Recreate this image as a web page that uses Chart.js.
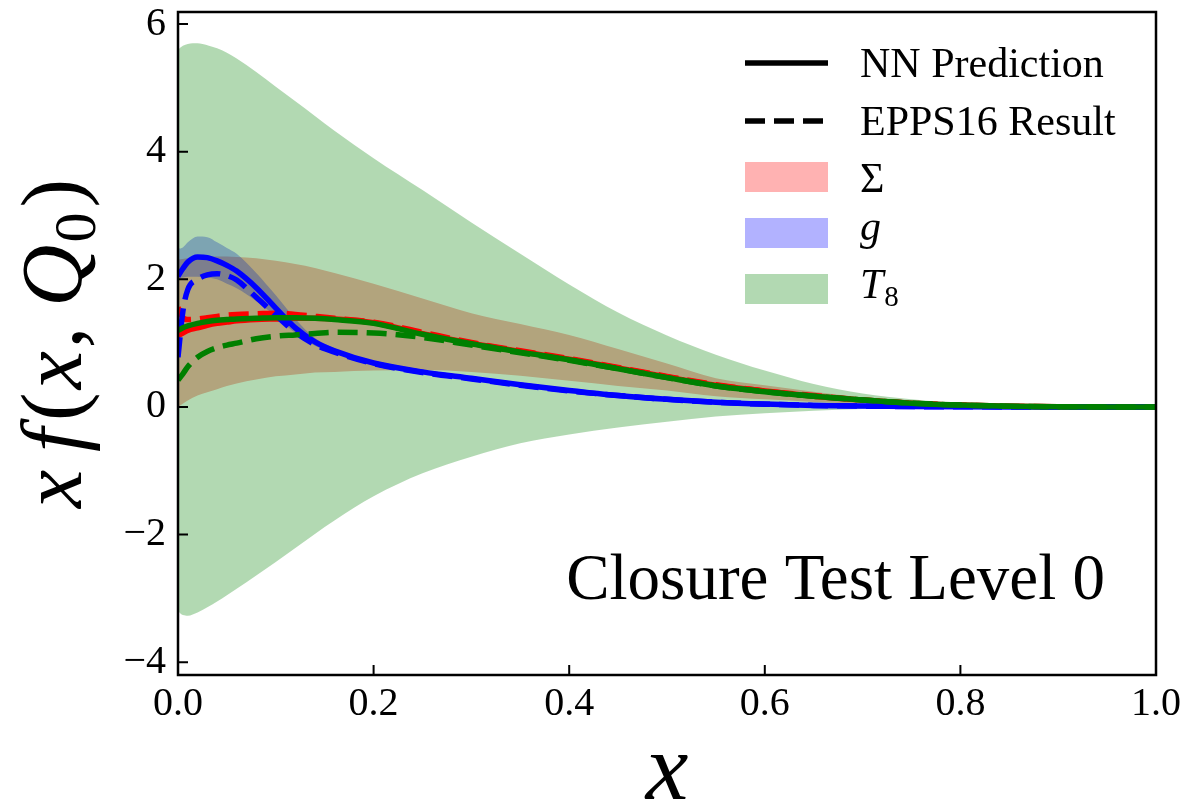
<!DOCTYPE html>
<html>
<head>
<meta charset="utf-8">
<script src="https://cdn.jsdelivr.net/npm/chart.js@4.4.0/dist/chart.umd.min.js"></script>
<style>
  html, body { margin: 0; padding: 0; background: #fff; }
  #wrap { width: 1184px; height: 802px; }
</style>
</head>
<body>
<div id="wrap"><canvas id="pdf" width="1184" height="802"></canvas></div>
<script>
// sample positions in x
const xGrid = [0, 0.005, 0.01, 0.02, 0.03, 0.04, 0.05, 0.06, 0.08, 0.10, 0.12, 0.14, 0.16, 0.20, 0.25,
               0.30, 0.35, 0.40, 0.45, 0.50, 0.55, 0.60, 0.65, 0.70, 0.75, 0.80, 0.85, 0.90, 0.95, 1.00];

// uncertainty bands (upper / lower)
const sigmaUp = [2.31, 2.32, 2.33, 2.35, 2.36, 2.36, 2.36, 2.35, 2.33, 2.29, 2.24, 2.18, 2.10, 1.93, 1.70,
                 1.47, 1.30, 1.13, 0.91, 0.68, 0.45, 0.34, 0.24, 0.15, 0.09, 0.05, 0.025, 0.01, 0.003, 0];
const sigmaLo = [0.00, 0.05, 0.10, 0.18, 0.23, 0.28, 0.33, 0.37, 0.43, 0.48, 0.51, 0.54, 0.55, 0.57, 0.58,
                 0.55, 0.49, 0.41, 0.33, 0.26, 0.17, 0.12, 0.08, 0.05, 0.03, 0.015, 0.007, 0.003, 0.001, 0];
const gUp     = [2.48, 2.50, 2.58, 2.67, 2.66, 2.58, 2.49, 2.40, 2.10, 1.75, 1.38, 1.08, 0.92, 0.71, 0.57,
                 0.46, 0.36, 0.27, 0.19, 0.13, 0.08, 0.05, 0.03, 0.016, 0.008, 0.004, 0.001, 0, 0, 0];
const gLo     = [2.02, 2.03, 2.04, 2.04, 2.03, 2.00, 1.93, 1.86, 1.66, 1.42, 1.16, 0.96, 0.84, 0.67, 0.53,
                 0.44, 0.34, 0.25, 0.17, 0.11, 0.07, 0.04, 0.02, 0.012, 0.006, 0.002, 0.001, 0, 0, 0];
const t8Up    = [5.60, 5.66, 5.69, 5.70, 5.67, 5.62, 5.55, 5.46, 5.25, 5.02, 4.79, 4.56, 4.33, 3.90, 3.40,
                 2.89, 2.40, 1.92, 1.48, 1.12, 0.82, 0.57, 0.36, 0.21, 0.12, 0.06, 0.03, 0.01, 0.003, 0];
const t8Lo    = [-3.20, -3.26, -3.27, -3.22, -3.14, -3.05, -2.95, -2.85, -2.64, -2.43, -2.21, -1.99, -1.78, -1.40, -1.04,
                 -0.78, -0.57, -0.43, -0.32, -0.23, -0.15, -0.10, -0.06, -0.03, -0.015, -0.008, -0.003, -0.001, 0, 0];

// central curves: NN prediction (solid) and EPPS16 (dashed)
const sigmaNN   = [1.12, 1.16, 1.20, 1.24, 1.28, 1.31, 1.33, 1.35, 1.37, 1.38, 1.39, 1.39, 1.38, 1.32, 1.15,
                   1.00, 0.87, 0.75, 0.61, 0.47, 0.34, 0.25, 0.17, 0.11, 0.06, 0.03, 0.012, 0.004, 0.001, 0];
const sigmaEPPS = [1.56, 1.40, 1.37, 1.38, 1.40, 1.42, 1.44, 1.45, 1.46, 1.47, 1.45, 1.42, 1.39, 1.33, 1.17,
                   1.01, 0.88, 0.76, 0.62, 0.48, 0.35, 0.25, 0.18, 0.11, 0.06, 0.03, 0.012, 0.004, 0.001, 0];
const gNN       = [2.05, 2.17, 2.27, 2.35, 2.34, 2.29, 2.22, 2.13, 1.87, 1.55, 1.24, 1.02, 0.88, 0.69, 0.55,
                   0.45, 0.35, 0.26, 0.18, 0.12, 0.075, 0.045, 0.025, 0.014, 0.007, 0.003, 0.001, 0, 0, 0];
const gEPPS     = [0.78, 1.50, 1.84, 2.00, 2.07, 2.09, 2.06, 1.99, 1.72, 1.44, 1.17, 0.98, 0.86, 0.68, 0.54,
                   0.44, 0.34, 0.25, 0.18, 0.12, 0.074, 0.044, 0.025, 0.014, 0.007, 0.003, 0.001, 0, 0, 0];
const t8NN      = [1.20, 1.24, 1.27, 1.31, 1.34, 1.36, 1.37, 1.38, 1.39, 1.40, 1.40, 1.39, 1.37, 1.31, 1.14,
                   0.99, 0.86, 0.74, 0.60, 0.46, 0.33, 0.24, 0.17, 0.11, 0.06, 0.03, 0.012, 0.004, 0.001, 0];
const t8EPPS    = [0.42, 0.52, 0.63, 0.78, 0.87, 0.93, 0.97, 1.00, 1.07, 1.11, 1.13, 1.15, 1.17, 1.16, 1.09,
                   0.97, 0.85, 0.73, 0.60, 0.46, 0.33, 0.24, 0.17, 0.11, 0.06, 0.03, 0.012, 0.004, 0.001, 0];

const xTicks = [0, 0.2, 0.4, 0.6, 0.8, 1.0];
const yTicks = [-4, -2, 0, 2, 4, 6];

const SERIF = '"Liberation Serif", "Times New Roman", serif';
const RED = '#ff0000', BLUE = '#0000ff', GREEN = '#008000';
const DASH = [20, 9];

const pts = ys => xGrid.map((x, i) => ({ x, y: ys[i] }));

function bandPair(up, lo, color, targetIdx, order) {
  return [
    { data: pts(up), borderWidth: 0, backgroundColor: color, fill: targetIdx, order },
    { data: pts(lo), borderWidth: 0, fill: false, order }
  ];
}
function curve(ys, color, dashed, order) {
  return { data: pts(ys), borderColor: color, borderWidth: 5.5, borderDash: dashed ? DASH : [],
           fill: false, order };
}

// inward ticks + box frame, like the matplotlib axes
const axesFrame = {
  id: 'axesFrame',
  afterDatasetsDraw(chart) {
    const { ctx, chartArea: a, scales: { x, y } } = chart;
    ctx.save();
    ctx.strokeStyle = '#000';
    ctx.lineWidth = 2;
    ctx.beginPath();
    xTicks.forEach(v => {
      const px = x.getPixelForValue(v);
      ctx.moveTo(px, a.bottom); ctx.lineTo(px, a.bottom - 10);
    });
    yTicks.forEach(v => {
      const py = y.getPixelForValue(v);
      ctx.moveTo(a.left, py); ctx.lineTo(a.left + 10, py);
    });
    ctx.stroke();
    ctx.lineWidth = 2.5;
    ctx.strokeRect(a.left, a.top, a.right - a.left, a.bottom - a.top);
    ctx.restore();
  }
};

// legend, annotation and axis labels (math labels need subscripts)
const labels = {
  id: 'labels',
  afterDraw(chart) {
    const { ctx, chartArea: a } = chart;
    ctx.save();
    ctx.fillStyle = '#000';
    ctx.textBaseline = 'alphabetic';

    // legend
    const lx0 = 745, lx1 = 828, tx = 860;
    ctx.strokeStyle = '#000';
    ctx.lineWidth = 5.5;
    ctx.beginPath(); ctx.moveTo(lx0, 63); ctx.lineTo(lx1, 63); ctx.stroke();
    ctx.setLineDash(DASH);
    ctx.beginPath(); ctx.moveTo(lx0, 121); ctx.lineTo(lx1, 121); ctx.stroke();
    ctx.setLineDash([]);
    const patches = [['rgba(255,0,0,0.3)', 162], ['rgba(0,0,255,0.3)', 218], ['rgba(0,128,0,0.3)', 274]];
    patches.forEach(([c, top]) => { ctx.fillStyle = c; ctx.fillRect(lx0, top, lx1 - lx0, 30); });
    ctx.fillStyle = '#000';
    ctx.font = '42px ' + SERIF;
    ctx.fillText('NN Prediction', tx, 77);
    ctx.fillText('EPPS16 Result', tx, 135);
    ctx.fillText('\u03A3', tx, 192);
    ctx.font = 'italic 42px ' + SERIF;
    ctx.fillText('g', tx, 240);
    ctx.fillText('T', tx, 298);
    const tw = ctx.measureText('T').width;
    ctx.font = '29px ' + SERIF;
    ctx.fillText('8', tx + tw + 1, 306);

    // annotation
    ctx.font = '65px ' + SERIF;
    ctx.textAlign = 'right';
    ctx.fillText('Closure Test Level 0', 1105, 599);

    // x axis label
    ctx.textAlign = 'center';
    ctx.font = 'italic 96px ' + SERIF;
    ctx.fillText('x', (a.left + a.right) / 2, 799);

    // y axis label: x f(x, Q0)
    const parts = [
      ['x', 'italic 86px', 0, 18], ['f', 'italic 86px', 0, 7], ['(', '86px', 0, 3],
      ['x', 'italic 86px', 0, 3], [',', '86px', 0, 20], ['Q', 'italic 86px', 0, 2],
      ['0', '60px', 14, 5], [')', '86px', 0, 0]
    ];
    let total = 0;
    parts.forEach(p => { ctx.font = p[1] + ' ' + SERIF; p.push(ctx.measureText(p[0]).width); total += p[4] + p[3]; });
    ctx.translate(81, (a.top + a.bottom) / 2);
    ctx.rotate(-Math.PI / 2);
    ctx.textAlign = 'left';
    let cx = -total / 2;
    parts.forEach(p => {
      ctx.font = p[1] + ' ' + SERIF;
      ctx.fillText(p[0], cx, p[2]);
      cx += p[4] + p[3];
    });
    ctx.restore();
  }
};

const tickFont = { family: SERIF, size: 40 };

new Chart(document.getElementById('pdf'), {
  type: 'line',
  data: {
    datasets: [
      ...bandPair(sigmaUp, sigmaLo, 'rgba(255,0,0,0.3)', 1, 100),
      ...bandPair(gUp, gLo, 'rgba(0,0,255,0.3)', 3, 90),
      ...bandPair(t8Up, t8Lo, 'rgba(0,128,0,0.3)', 5, 80),
      curve(sigmaNN, RED, false, 30),
      curve(sigmaEPPS, RED, true, 29),
      curve(gNN, BLUE, false, 20),
      curve(gEPPS, BLUE, true, 19),
      curve(t8NN, GREEN, false, 10),
      curve(t8EPPS, GREEN, true, 9)
    ]
  },
  options: {
    responsive: false,
    animation: false,
    devicePixelRatio: 1,
    clip: 0,
    layout: { padding: { top: 12, right: 28, left: 0, bottom: 0 } },
    elements: {
      point: { radius: 0, hoverRadius: 0 },
      line: { cubicInterpolationMode: 'monotone', borderCapStyle: 'butt' }
    },
    plugins: { legend: { display: false }, tooltip: { enabled: false } },
    scales: {
      x: {
        type: 'linear', min: 0, max: 1,
        grid: { display: false, drawTicks: false },
        border: { display: false },
        ticks: { font: tickFont, color: '#000', padding: 5, autoSkip: false, maxRotation: 0,
                 callback: v => v.toFixed(1) },
        afterBuildTicks: s => { s.ticks = xTicks.map(v => ({ value: v })); },
        afterFit: s => { s.height = 127; s.paddingLeft = 0; s.paddingRight = 0; }
      },
      y: {
        type: 'linear', min: -4.2, max: 6.19,
        grid: { display: false, drawTicks: false },
        border: { display: false },
        ticks: { font: tickFont, color: '#000', padding: 12,
                 callback: v => (v < 0 ? '\u2212' + Math.abs(v) : String(v)) },
        afterBuildTicks: s => { s.ticks = yTicks.map(v => ({ value: v })); },
        afterFit: s => { s.width = 178; s.paddingTop = 0; s.paddingBottom = 0; }
      }
    }
  },
  plugins: [axesFrame, labels]
});
</script>
</body>
</html>
